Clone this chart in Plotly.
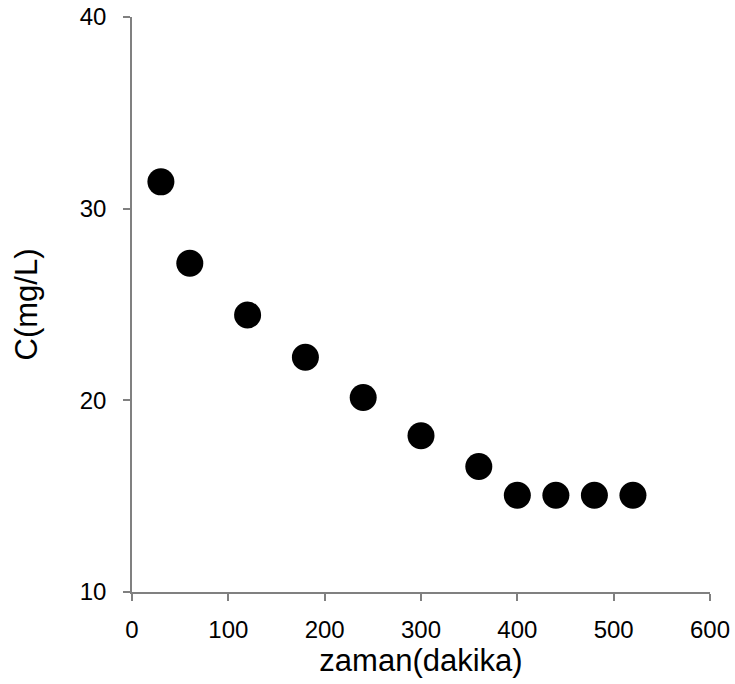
import plotly.graph_objects as go

time_min = [30, 60, 120, 180, 240, 300, 360, 400, 440, 480, 520]
conc_mgL = [31.4, 27.15, 24.45, 22.25, 20.15, 18.15, 16.55, 15.05, 15.05, 15.05, 15.05]

x_ticks = [0, 100, 200, 300, 400, 500, 600]
y_ticks = [10, 20, 30, 40]

fig = go.Figure()
fig.add_trace(go.Scatter(
    x=time_min, y=conc_mgL, mode="markers",
    marker=dict(color="black", size=27, line=dict(width=0)),
    showlegend=False,
))

axis_common = dict(
    showgrid=False, zeroline=False, showline=True, automargin=False,
    linecolor="#808080", linewidth=1.5,
    ticks="outside", ticklen=7, tickcolor="#808080", tickwidth=1.5,
    tickfont=dict(family="Liberation Sans, Arial", size=24, color="black"),
    ticklabeloverflow="allow",
)

fig.update_layout(
    width=735, height=684,
    margin=dict(l=132, r=25, t=17, b=92),
    paper_bgcolor="white", plot_bgcolor="white",
    font=dict(family="Liberation Sans, Arial", color="black"),
    xaxis=dict(range=[0, 600], tickvals=x_ticks, ticktext=[str(v) for v in x_ticks],
               ticklabelstandoff=8,
               title=dict(text="zaman(dakika)", font=dict(size=31), standoff=0),
               **axis_common),
    yaxis=dict(range=[10, 40], tickvals=y_ticks, ticktext=[str(v) for v in y_ticks],
               ticklabelstandoff=12,
               title=dict(text="C(mg/L)", font=dict(size=31), standoff=33),
               **axis_common),
)
fig.write_html("out.html", config={"displayModeBar": False},
               post_script="document.body.style.margin='0';document.body.style.padding='0';")
